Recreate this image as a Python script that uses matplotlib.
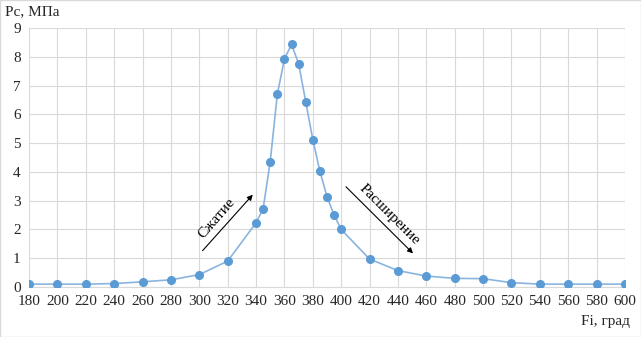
import matplotlib
matplotlib.use("Agg")
import matplotlib.pyplot as plt

fi = [180, 200, 220, 240, 260, 280, 300, 320, 340, 345, 350, 355, 360, 365, 370,
      375, 380, 385, 390, 395, 400, 420, 440, 460, 480, 500, 520, 540, 560, 580, 600]
pc = [0.1, 0.1, 0.1, 0.12, 0.18, 0.25, 0.43, 0.9, 2.23, 2.72, 4.36, 6.7, 7.92, 8.43, 7.76,
      6.44, 5.12, 4.02, 3.14, 2.5, 2.0, 0.97, 0.57, 0.38, 0.3, 0.29, 0.15, 0.1, 0.1, 0.1, 0.1]
xticks = list(range(180, 601, 20))
yticks = list(range(0, 10))

plt.rcParams['font.family'] = ['Liberation Serif', 'DejaVu Serif']

fig = plt.figure(figsize=(6.41, 3.37), dpi=100)
ax = fig.add_axes([29/641, 1-287/337, 596/641, 259/337])

ax.plot(fi, pc, color='#8ab4e0', lw=1.2, zorder=2)
ax.plot(fi, pc, ls='none', marker='o', ms=5.5, color='#5b9bd5', zorder=3)

ax.set_xlim(180, 600)
ax.set_ylim(0, 9)
ax.set_xticks(xticks)
ax.set_yticks(yticks)
ax.grid(True, color='#d9d9d9', lw=0.8)
ax.set_axisbelow(True)
for s in ['top', 'right', 'left']:
    ax.spines[s].set_visible(False)
ax.spines['bottom'].set_color('#d9d9d9')
ax.tick_params(length=0, labelsize=11, colors='#262626', pad=6)

fig.text(5/641, 1-12/337, 'Рс, МПа', fontsize=11, va='center', ha='left', color='#262626')
fig.text(630/641, 1-322/337, 'Fi, град', fontsize=11, va='center', ha='right', color='#262626')

ax.annotate('', xy=(339, 3.28), xytext=(301, 1.19),
            arrowprops=dict(arrowstyle='-|>', color='black', lw=0.8, mutation_scale=8))
ax.text(312, 2.4, 'Сжатие', rotation=49, ha='center', va='center', fontsize=11)
ax.annotate('', xy=(452, 1.1), xytext=(402, 3.55),
            arrowprops=dict(arrowstyle='-|>', color='black', lw=0.8, mutation_scale=8))
ax.text(434, 2.5, 'Расширение', rotation=-45, ha='center', va='center', fontsize=11)

fig.patches.append(plt.Rectangle((0, 0), 1, 1, transform=fig.transFigure,
                                 fill=False, edgecolor='#d9d9d9', lw=1))

fig.savefig('out.png', dpi=100)
